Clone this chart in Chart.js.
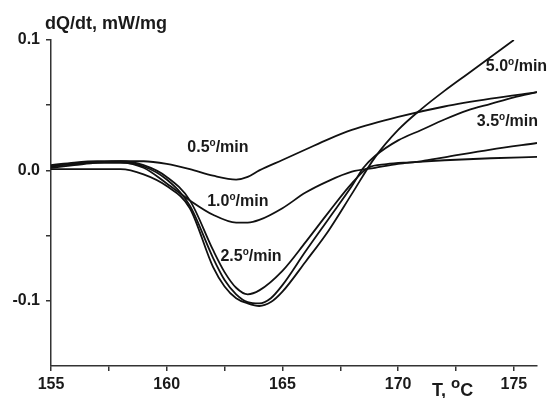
<!DOCTYPE html>
<html>
<head>
<meta charset="utf-8">
<script src="https://cdn.jsdelivr.net/npm/chart.js@4/dist/chart.umd.min.js"></script>
<style>
  html, body { margin: 0; padding: 0; background: #fff; }
  #wrap { width: 551px; height: 398px; }
</style>
</head>
<body>
<div id="wrap"><canvas id="c" width="551" height="398"></canvas></div>
<script>
// DSC heat-flow curves at five heating rates
const t05 = [155, 156, 157, 158, 159, 160, 161, 162, 163, 163.5, 164, 165, 166, 167, 168, 170, 172, 174, 176];
const q05 = [0.002, 0.004, 0.006, 0.007, 0.007, 0.005, 0.001, -0.004, -0.007, -0.005, 0.000, 0.008, 0.016, 0.024, 0.031, 0.041, 0.049, 0.055, 0.060];

const t10 = [155, 156, 157, 158, 159, 160, 161, 162, 163, 163.5, 164, 165, 166, 167, 168, 169, 170, 171, 172, 174, 176];
const q10 = [0.003, 0.005, 0.006, 0.006, 0.002, -0.010, -0.023, -0.034, -0.040, -0.040, -0.038, -0.029, -0.017, -0.008, -0.001, 0.002, 0.005, 0.007, 0.010, 0.016, 0.021];

const t25 = [155, 156, 157, 158, 159, 160, 161, 162, 162.5, 163, 163.5, 164, 165, 166, 167, 168, 168.7, 169.5, 170.5, 172, 174, 176];
const q25 = [0.004, 0.006, 0.007, 0.007, 0.004, -0.005, -0.023, -0.061, -0.078, -0.090, -0.095, -0.092, -0.077, -0.055, -0.032, -0.010, 0.002, 0.0048, 0.0062, 0.0078, 0.0093, 0.0104];

const t35 = [155, 156, 157, 158, 159, 160, 161, 162, 162.5, 163, 163.5, 164, 164.5, 165, 166, 167, 168, 168.5, 169, 170, 171, 172, 173, 174, 175, 176];
const q35 = [0.003, 0.005, 0.006, 0.006, 0.003, -0.007, -0.027, -0.067, -0.084, -0.095, -0.101, -0.102, -0.098, -0.088, -0.062, -0.037, -0.012, 0.002, 0.011, 0.023, 0.031, 0.039, 0.046, 0.051, 0.056, 0.060];

const t50 = [155, 156, 157, 158, 159, 160, 161, 162, 162.5, 163, 163.5, 164, 164.5, 165, 166, 167, 168, 169, 170, 171, 172, 173, 174, 175];
const q50 = [0.001, 0.001, 0.001, 0.001, -0.003, -0.012, -0.029, -0.074, -0.089, -0.098, -0.102, -0.104, -0.101, -0.093, -0.070, -0.046, -0.018, 0.010, 0.031, 0.047, 0.061, 0.074, 0.087, 0.100];

// axis ticks
const xTicks = [155, 157.5, 160, 162.5, 165, 167.5, 170, 172.5, 175];
const yTicks = [-0.1, -0.05, 0, 0.05, 0.1];

// curve labels and where they sit (data units: left edge, baseline)
const rateLabels = ['0.5', '1.0', '2.5', '5.0', '3.5'];
const labelX = [160.89, 161.75, 162.32, 173.79, 173.40];
const labelY = [0.0142, -0.0273, -0.0696, 0.0765, 0.0342];

const yTitle = 'dQ/dt, mW/mg';

const toPts = (xs, ys) => xs.map((x, i) => ({ x: x, y: ys[i] }));
const lineStyle = { borderColor: '#111', borderWidth: 1.8, pointRadius: 0, cubicInterpolationMode: 'monotone', showLine: true, fill: false };

const INK = '#1a1a1a';
const FAMILY = '"Liberation Sans", Arial, sans-serif';

// draws text with a raised small "o" for the degree sign
function drawDegText(ctx, before, after, x, y, size, supSize, rise) {
  ctx.font = 'bold ' + size + 'px ' + FAMILY;
  ctx.fillText(before, x, y);
  let w = ctx.measureText(before).width;
  ctx.font = 'bold ' + supSize + 'px ' + FAMILY;
  ctx.fillText('o', x + w, y - rise);
  w += ctx.measureText('o').width;
  ctx.font = 'bold ' + size + 'px ' + FAMILY;
  ctx.fillText(after, x + w, y);
}

const textPlugin = {
  id: 'texts',
  afterDraw(chart) {
    const ctx = chart.ctx;
    const xs = chart.scales.x, ys = chart.scales.y;
    ctx.save();
    ctx.fillStyle = INK;
    ctx.textAlign = 'left';
    ctx.textBaseline = 'alphabetic';
    // y-axis title
    ctx.font = 'bold 18px ' + FAMILY;
    ctx.fillText(yTitle, chart.chartArea.left - 6, 29);
    // x-axis title
    drawDegText(ctx, 'T, ', 'C', 432, 396, 18, 15, 8);
    // curve labels
    rateLabels.forEach((r, i) => {
      const px = xs.getPixelForValue(labelX[i]);
      const py = ys.getPixelForValue(labelY[i]);
      drawDegText(ctx, r, '/min', px, py, 16, 10, 6);
    });
    ctx.restore();
  }
};

new Chart(document.getElementById('c'), {
  type: 'scatter',
  data: {
    datasets: [
      Object.assign({ label: '0.5', data: toPts(t05, q05) }, lineStyle),
      Object.assign({ label: '1.0', data: toPts(t10, q10) }, lineStyle),
      Object.assign({ label: '2.5', data: toPts(t25, q25) }, lineStyle),
      Object.assign({ label: '3.5', data: toPts(t35, q35) }, lineStyle),
      Object.assign({ label: '5.0', data: toPts(t50, q50) }, lineStyle)
    ]
  },
  options: {
    responsive: false,
    animation: false,
    devicePixelRatio: 1,
    layout: { padding: { left: 0, top: 40, right: 14, bottom: 0 } },
    plugins: { legend: { display: false }, tooltip: { enabled: false } },
    scales: {
      x: {
        type: 'linear',
        min: 155, max: 176,
        afterBuildTicks: s => { s.ticks = xTicks.map(v => ({ value: v })); },
        afterFit: s => { s.height = 32; },
        ticks: {
          autoSkip: false, maxRotation: 0, padding: 4,
          color: INK, font: { family: FAMILY, size: 16, weight: 'bold' },
          callback: v => (v % 5 === 0 ? String(v) : '')
        },
        grid: { drawOnChartArea: false, drawTicks: true, tickLength: 5, color: '#333', lineWidth: 1.5 },
        border: { display: true, color: '#333', width: 1.5 }
      },
      y: {
        type: 'linear',
        min: -0.15, max: 0.1,
        afterBuildTicks: s => { s.ticks = yTicks.map(v => ({ value: v })); },
        afterFit: s => { s.width = 51; },
        ticks: {
          autoSkip: false, padding: 6,
          color: INK, font: { family: FAMILY, size: 16, weight: 'bold' },
          callback: v => (Math.abs(v * 20 - Math.round(v * 20)) < 1e-9 && Math.round(v * 20) % 2 === 0 ? v.toFixed(1) : '')
        },
        grid: { drawOnChartArea: false, drawTicks: true, tickLength: 5, color: '#333', lineWidth: 1.5 },
        border: { display: true, color: '#333', width: 1.5 }
      }
    }
  },
  plugins: [textPlugin]
});
</script>
</body>
</html>
